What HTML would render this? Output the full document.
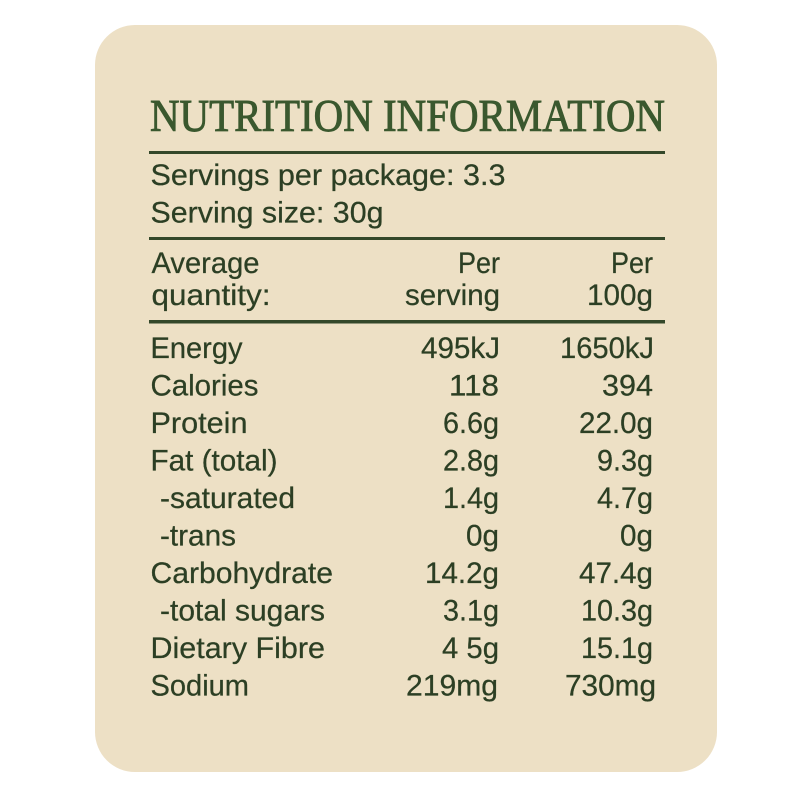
<!DOCTYPE html>
<html>
<head>
<meta charset="utf-8">
<style>
  html, body { margin: 0; padding: 0; background: #ffffff; }
  svg { display: block; }
  .t { font-family: "Liberation Sans", sans-serif; font-size: 30px; fill: #2c3f24; stroke: #2c3f24; stroke-width: 0.25; }
  .h { font-family: "Liberation Serif", serif; font-size: 45px; fill: #3a582e; stroke: #3a582e; stroke-width: 0.9; }
</style>
</head>
<body>
<svg width="800" height="800" viewBox="0 0 800 800" xmlns="http://www.w3.org/2000/svg">
  <rect x="0" y="0" width="800" height="800" fill="#ffffff"/>
  <rect x="95" y="25" width="622" height="747" rx="40" ry="40" fill="#ede0c5"/>

  <text class="h" x="150" y="131" textLength="515" lengthAdjust="spacingAndGlyphs">NUTRITION INFORMATION</text>
  <rect x="149" y="151" width="516" height="3" fill="#34482a"/>

  <text class="t" x="150.5" y="185" textLength="355" lengthAdjust="spacingAndGlyphs">Servings per package: 3.3</text>
  <text class="t" x="150.5" y="222.5" textLength="233" lengthAdjust="spacingAndGlyphs">Serving size: 30g</text>
  <rect x="149" y="237" width="516" height="3" fill="#34482a"/>

  <text class="t" x="151.5" y="273" textLength="108" lengthAdjust="spacingAndGlyphs">Average</text>
  <text class="t" x="151.5" y="305" textLength="119" lengthAdjust="spacingAndGlyphs">quantity:</text>
  <text class="t" x="458" y="273" textLength="42" lengthAdjust="spacingAndGlyphs">Per</text>
  <text class="t" x="405" y="305" textLength="95" lengthAdjust="spacingAndGlyphs">serving</text>
  <text class="t" x="611" y="273" textLength="42" lengthAdjust="spacingAndGlyphs">Per</text>
  <text class="t" x="587" y="305" textLength="66" lengthAdjust="spacingAndGlyphs">100g</text>
  <rect x="149" y="320" width="516" height="3.5" fill="#34482a"/>

  <text class="t" x="150.5" y="358" textLength="92" lengthAdjust="spacingAndGlyphs">Energy</text>
  <text class="t" x="421" y="358" textLength="79" lengthAdjust="spacingAndGlyphs">495kJ</text>
  <text class="t" x="560" y="358" textLength="94" lengthAdjust="spacingAndGlyphs">1650kJ</text>

  <text class="t" x="150.5" y="395.5" textLength="108" lengthAdjust="spacingAndGlyphs">Calories</text>
  <text class="t" x="449" y="395.5" textLength="50" lengthAdjust="spacingAndGlyphs">118</text>
  <text class="t" x="602" y="395.5" textLength="51" lengthAdjust="spacingAndGlyphs">394</text>

  <text class="t" x="150.5" y="433" textLength="97" lengthAdjust="spacingAndGlyphs">Protein</text>
  <text class="t" x="443" y="433" textLength="56" lengthAdjust="spacingAndGlyphs">6.6g</text>
  <text class="t" x="579" y="433" textLength="74" lengthAdjust="spacingAndGlyphs">22.0g</text>

  <text class="t" x="150.5" y="470.5" textLength="127" lengthAdjust="spacingAndGlyphs">Fat (total)</text>
  <text class="t" x="443" y="470.5" textLength="56" lengthAdjust="spacingAndGlyphs">2.8g</text>
  <text class="t" x="597" y="470.5" textLength="56" lengthAdjust="spacingAndGlyphs">9.3g</text>

  <text class="t" x="160" y="508" textLength="135" lengthAdjust="spacingAndGlyphs">-saturated</text>
  <text class="t" x="443" y="508" textLength="56" lengthAdjust="spacingAndGlyphs">1.4g</text>
  <text class="t" x="597" y="508" textLength="56" lengthAdjust="spacingAndGlyphs">4.7g</text>

  <text class="t" x="160" y="545.5" textLength="76" lengthAdjust="spacingAndGlyphs">-trans</text>
  <text class="t" x="466" y="545.5" textLength="33" lengthAdjust="spacingAndGlyphs">0g</text>
  <text class="t" x="620" y="545.5" textLength="33" lengthAdjust="spacingAndGlyphs">0g</text>

  <text class="t" x="150.5" y="583" textLength="182.5" lengthAdjust="spacingAndGlyphs">Carbohydrate</text>
  <text class="t" x="425" y="583" textLength="74" lengthAdjust="spacingAndGlyphs">14.2g</text>
  <text class="t" x="579" y="583" textLength="74" lengthAdjust="spacingAndGlyphs">47.4g</text>

  <text class="t" x="160" y="620.5" textLength="165" lengthAdjust="spacingAndGlyphs">-total sugars</text>
  <text class="t" x="443" y="620.5" textLength="56" lengthAdjust="spacingAndGlyphs">3.1g</text>
  <text class="t" x="581" y="620.5" textLength="72" lengthAdjust="spacingAndGlyphs">10.3g</text>

  <text class="t" x="150.5" y="658" textLength="174.5" lengthAdjust="spacingAndGlyphs">Dietary Fibre</text>
  <text class="t" x="442" y="658" textLength="57" lengthAdjust="spacingAndGlyphs">4 5g</text>
  <text class="t" x="581" y="658" textLength="72" lengthAdjust="spacingAndGlyphs">15.1g</text>

  <text class="t" x="150.5" y="695.5" textLength="98.5" lengthAdjust="spacingAndGlyphs">Sodium</text>
  <text class="t" x="406" y="695.5" textLength="92" lengthAdjust="spacingAndGlyphs">219mg</text>
  <text class="t" x="565" y="695.5" textLength="91" lengthAdjust="spacingAndGlyphs">730mg</text>
</svg>
</body>
</html>
